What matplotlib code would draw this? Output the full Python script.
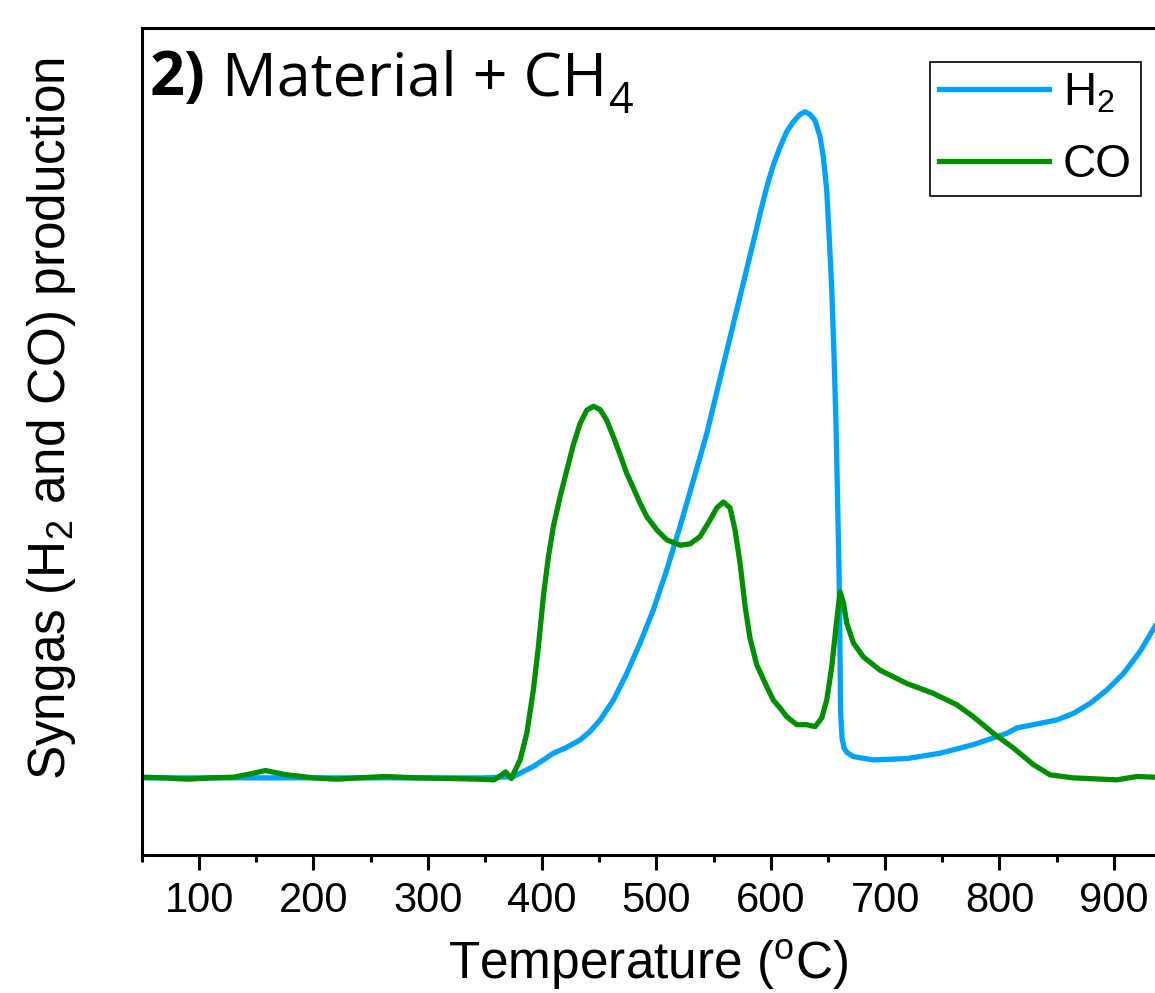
import matplotlib
matplotlib.use('Agg')
import matplotlib.pyplot as plt
from matplotlib.ticker import MultipleLocator, NullLocator

plt.rcParams['font.family'] = ['Liberation Sans', 'DejaVu Sans']
plt.rcParams['mathtext.fontset'] = 'custom'
plt.rcParams['mathtext.rm'] = 'Liberation Sans'
plt.rcParams['mathtext.it'] = 'Liberation Sans:italic'

# H2 signal (a.u.)
h2_temp = [50, 200, 350, 374.9, 383.6, 392.3, 401.1, 409.8, 421.6, 433.2, 442,
           450.7, 462.3, 474.0, 485.7, 497.3, 509.0, 520.6, 532.3, 544.0, 552.7,
           570.2, 579.0, 584.7, 590.6, 596.5, 602.2, 608.1, 613.9, 619.7, 625.5,
           630.0, 634.2, 638.6, 643.0, 645.9, 648.9, 651.2, 653.3, 655.3, 657.0,
           658.2, 659.4, 660.1, 661.0, 662.3, 664.0, 666.7, 672.2, 689.7, 718.9,
           748.0, 777.1, 806.4, 815.1, 850.0, 864.6, 879.2, 893.8, 908.4, 922.9,
           936]
h2_val = [0, 0, 0, 0.2, 0.95, 1.7, 2.7, 3.7, 4.6, 5.7, 7.0,
          8.7, 11.7, 15.7, 20.3, 25.3, 31.3, 37.8, 44.8, 51.8, 58.0,
          70.4, 76.6, 80.6, 84.9, 88.9, 92.2, 94.9, 97.2, 98.7, 99.8,
          100.2, 99.8, 98.9, 96.5, 93.4, 88.4, 80.9, 73.4, 63.4, 53.3,
          43.3, 33.3, 26.0, 10.0, 6.0, 4.5, 3.8, 3.2, 2.7, 2.9,
          3.7, 5.0, 6.7, 7.5, 8.7, 9.7, 11.2, 13.2, 15.7, 19.0,
          22.8]

# CO signal (a.u.)
co_temp = [50, 70, 90, 110, 130, 145, 158, 175, 200, 220, 240, 262, 290, 320,
           345, 358, 365, 368, 373, 380.7, 386.6, 392.3, 396.7, 401.1, 405.5,
           409.8, 415.7, 421.6, 427.3, 433.2, 439, 444.8, 450.7, 456.5, 462.3,
           468.2, 474, 479.8, 485.7, 491.5, 500.3, 509, 520.6, 529.4, 538.1,
           546.9, 552.7, 558.5, 564.4, 568.7, 573.1, 577.5, 581.8, 587.7, 596.5,
           602.2, 608.1, 613.9, 622.7, 631.4, 638.7, 644.5, 648.9, 653.3, 657,
           660.6, 663.5, 666.4, 672.2, 680.9, 695.5, 718.9, 742.2, 762.6, 777.1,
           794.6, 812.1, 829.6, 844.2, 864.6, 902.5, 920, 936]
co_val = [0.1, 0.0, -0.2, 0.0, 0.1, 0.6, 1.1, 0.5, 0.0, -0.2, 0.0, 0.2, 0.0, -0.1,
          -0.2, -0.3, 0.5, 0.9, -0.1, 2.7, 6.7, 13.2, 19.7, 27.3, 33.3,
          37.8, 42.3, 46.3, 50.1, 53.3, 55.3, 55.9, 55.4, 53.8, 51.3,
          48.6, 45.8, 43.6, 41.3, 39.3, 37.3, 35.8, 35.0, 35.2, 36.3,
          38.8, 40.6, 41.5, 40.6, 37.3, 32.3, 25.8, 21.0, 17.0, 13.7,
          11.7, 10.5, 9.2, 8.0, 8.0, 7.7, 9.0, 11.7, 16.7, 22.7,
          28.0, 26.3, 23.3, 20.3, 18.2, 16.2, 14.2, 12.7, 11.0, 9.2,
          6.7, 4.5, 2.0, 0.45, 0.0, -0.3, 0.2, 0.1]

fig = plt.figure(figsize=(11.55, 9.93), dpi=100)
ax = fig.add_axes([0.1229, 0.139, 0.8771, 0.8328])

ax.plot(h2_temp, h2_val, color='#00A2FF', linewidth=3.8, label='H$_2$',
        solid_joinstyle='round')
ax.plot(co_temp, co_val, color='#008F00', linewidth=3.8, label='CO',
        solid_joinstyle='round')

ax.set_xlim(50, 936)
ax.set_ylim(-11.6, 112.8)

ax.xaxis.set_major_locator(MultipleLocator(100))
ax.xaxis.set_minor_locator(MultipleLocator(50))
ax.yaxis.set_major_locator(NullLocator())
ax.tick_params(axis='x', which='major', direction='out', length=11, width=2.2,
               labelsize=30, pad=8)
ax.tick_params(axis='x', which='minor', direction='out', length=5, width=2.2)

for side in ['left', 'bottom', 'top']:
    ax.spines[side].set_linewidth(2.2)
ax.spines['right'].set_visible(False)

ax.set_xlabel('Temperature ($^{\\rm o}$C)', fontsize=37, labelpad=11)
ax.set_ylabel('Syngas (H$_2$ and CO) production', fontsize=37)
ax.yaxis.set_label_coords(-0.063, 0.528)

# panel title: bold "2)", then regular text, then a hand-placed subscript
t1 = ax.text(0.008, 0.919, '2)', transform=ax.transAxes, fontsize=44,
             fontweight='bold', family='Open Sans', va='baseline')
t2 = ax.annotate(' Material + CH', xy=(1, 0), xycoords=t1, fontsize=44,
                 family='Open Sans', va='bottom', ha='left')
ax.annotate('4', xy=(1, 0), xycoords=t2, xytext=(1, -10),
            textcoords='offset points', fontsize=31, family='Open Sans',
            va='bottom', ha='left')

leg = ax.legend(loc='upper right', bbox_to_anchor=(0.986, 0.959), fontsize=33,
                handlelength=2.4, labelspacing=0.6, borderaxespad=0,
                fancybox=False, framealpha=1, edgecolor='black',
                borderpad=0.2, handletextpad=0.3)
leg.get_frame().set_linewidth(1.2)

fig.savefig('out.png', dpi=100)
